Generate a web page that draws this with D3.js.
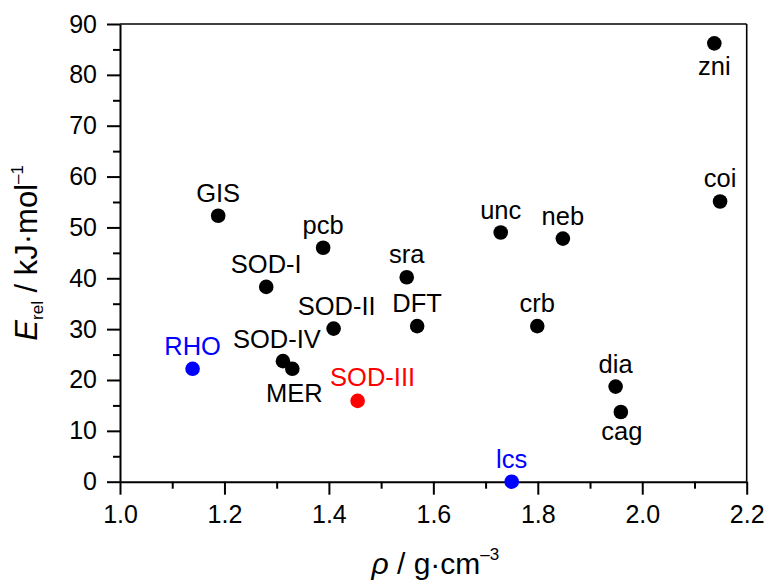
<!DOCTYPE html>
<html>
<head>
<meta charset="utf-8">
<script src="https://cdn.jsdelivr.net/npm/d3@7"></script>
<style>
  body { margin: 0; background: #fff; }
  svg { font-family: "Liberation Sans", Arial, sans-serif; }
</style>
</head>
<body>
<svg id="chart" width="767" height="583"></svg>
<script>
// data
var names = ["GIS", "pcb", "SOD-I", "SOD-II", "RHO", "SOD-IV", "MER", "SOD-III",
             "sra", "DFT", "unc", "neb", "crb", "lcs", "dia", "cag", "zni", "coi"];
var rho   = [1.188, 1.389, 1.280, 1.409, 1.139, 1.312, 1.330, 1.455,
             1.549, 1.569, 1.729, 1.848, 1.799, 1.750, 1.949, 1.959, 2.138, 2.149];
var erel  = [52.3, 46.0, 38.3, 30.1, 22.2, 23.7, 22.2, 15.9,
             40.2, 30.6, 49.0, 47.8, 30.6, 0.0, 18.7, 13.7, 86.2, 55.1];
var group = ["calc", "calc", "calc", "calc", "exp", "calc", "calc", "sod3",
             "calc", "calc", "calc", "calc", "calc", "exp", "calc", "calc", "calc", "calc"];
var xTicks = [1.0, 1.2, 1.4, 1.6, 1.8, 2.0, 2.2];
var yTicks = [0, 10, 20, 30, 40, 50, 60, 70, 80, 90];

var colors = { calc: "#000000", exp: "#0000ff", sod3: "#ff0000" };
// label placement (dx, dy of baseline from the dot)
var labelPos = {
  "SOD-II": [3, -14], "SOD-IV": [-6, -13], "SOD-III": [15, -15],
  "MER": [2, 33], "cag": [1, 28], "zni": [0, 32]
};

var margin = { top: 24, right: 20.3, bottom: 101.3, left: 120 };
var W = 767, H = 583;
var svg = d3.select("#chart");

var x = d3.scaleLinear().domain([1.0, 2.2]).range([margin.left, W - margin.right]);
var y = d3.scaleLinear().domain([0, 90]).range([H - margin.bottom, margin.top]);

// frame top and right
svg.append("line")
    .attr("x1", x(1.0)).attr("x2", x(2.2)).attr("y1", y(90)).attr("y2", y(90))
    .attr("stroke", "#000").attr("stroke-width", 1.6);
svg.append("line")
    .attr("x1", x(2.2)).attr("x2", x(2.2)).attr("y1", y(90)).attr("y2", y(0))
    .attr("stroke", "#000").attr("stroke-width", 1.6);

// minor ticks
svg.append("g")
    .attr("transform", "translate(0," + y(0) + ")")
    .call(d3.axisBottom(x).tickValues(d3.range(1.1, 2.2, 0.2)).tickSize(7).tickFormat(""))
    .call(function(g) { g.select(".domain").remove(); })
    .selectAll("line").attr("stroke-width", 2);
svg.append("g")
    .attr("transform", "translate(" + x(1.0) + ",0)")
    .call(d3.axisLeft(y).tickValues(d3.range(5, 90, 10)).tickSize(7).tickFormat(""))
    .call(function(g) { g.select(".domain").remove(); })
    .selectAll("line").attr("stroke-width", 2);

// major axes
var xAxis = svg.append("g")
    .attr("transform", "translate(0," + y(0) + ")")
    .call(d3.axisBottom(x).tickValues(xTicks).tickSize(13).tickSizeOuter(0)
          .tickPadding(11).tickFormat(d3.format(".1f")));
var yAxis = svg.append("g")
    .attr("transform", "translate(" + x(1.0) + ",0)")
    .call(d3.axisLeft(y).tickValues(yTicks).tickSize(13).tickSizeOuter(0)
          .tickPadding(10).tickFormat(d3.format("d")));

[xAxis, yAxis].forEach(function(a) {
  a.select(".domain").attr("stroke-width", 2);
  a.selectAll(".tick line").attr("stroke-width", 2);
  a.selectAll(".tick text")
      .attr("font-family", "Liberation Sans, Arial, sans-serif")
      .attr("font-size", 25).attr("fill", "#000");
});

// points
var idx = d3.range(names.length);
svg.append("g").selectAll("circle")
    .data(idx)
    .enter()
    .append("circle")
    .attr("cx", function(i) { return x(rho[i]); })
    .attr("cy", function(i) { return y(erel[i]); })
    .attr("r", 7.3)
    .attr("fill", function(i) { return colors[group[i]]; });

// labels
svg.append("g").selectAll("text")
    .data(idx)
    .enter()
    .append("text")
    .attr("x", function(i) { return x(rho[i]) + (labelPos[names[i]] ? labelPos[names[i]][0] : 0); })
    .attr("y", function(i) { return y(erel[i]) + (labelPos[names[i]] ? labelPos[names[i]][1] : -14); })
    .attr("text-anchor", "middle")
    .attr("font-size", 25.5)
    .attr("fill", function(i) { return colors[group[i]]; })
    .text(function(i) { return names[i]; });

// x title
var xt = svg.append("text")
    .attr("x", (x(1.0) + x(2.2)) / 2 + 2)
    .attr("y", 574)
    .attr("text-anchor", "middle")
    .attr("font-size", 30);
xt.append("tspan").attr("font-style", "italic").text("ρ");
xt.append("tspan").text(" / g·cm");
xt.append("tspan").attr("font-size", 17).attr("dy", -14).text("–3");

// y title
var yt = svg.append("text")
    .attr("transform", "translate(37," + ((y(0) + y(90)) / 2) + ") rotate(-90)")
    .attr("text-anchor", "middle")
    .attr("font-size", 31);
yt.append("tspan").attr("font-style", "italic").text("E");
yt.append("tspan").attr("font-size", 17).attr("dy", 6).text("rel");
yt.append("tspan").attr("dy", -6).text(" / kJ·mol");
yt.append("tspan").attr("font-size", 17).attr("dy", -14).text("–1");
</script>
</body>
</html>
